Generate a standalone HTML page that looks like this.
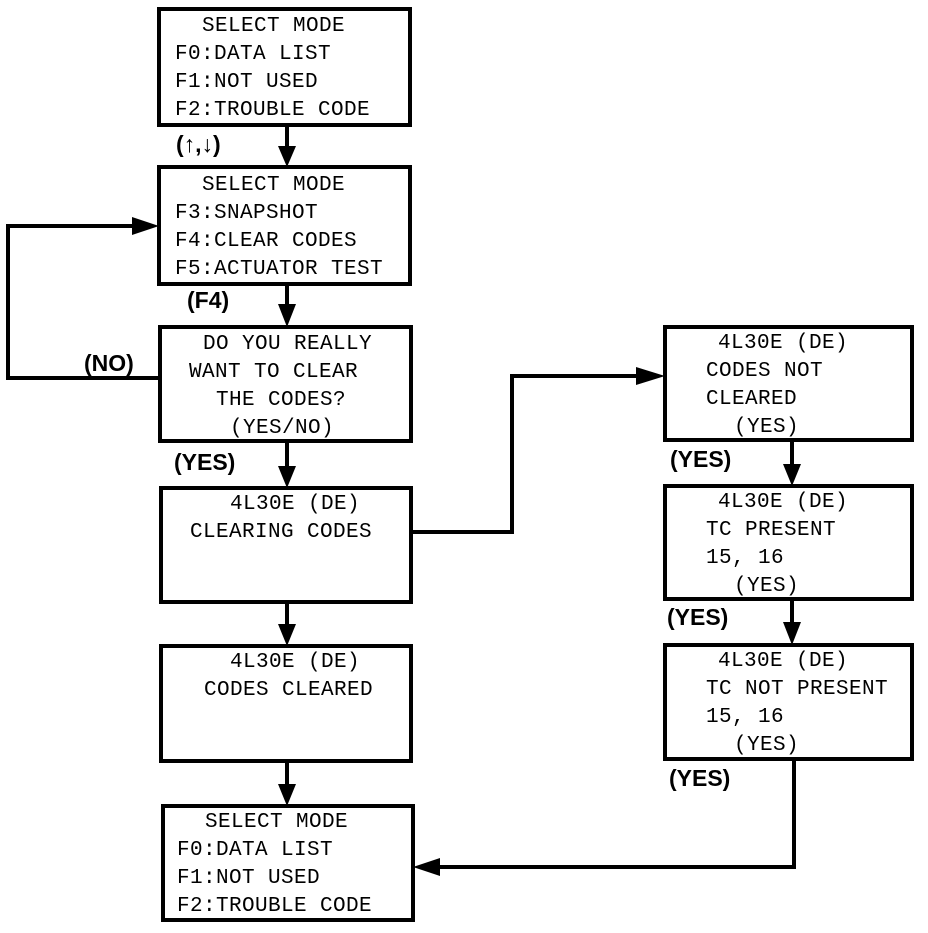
<!DOCTYPE html>
<html><head><meta charset="utf-8"><style>html,body{margin:0;padding:0;background:#fff}</style></head>
<body>
<svg width="928" height="928" viewBox="0 0 928 928" xmlns="http://www.w3.org/2000/svg">
<defs>
<marker id="ah" viewBox="0 0 10 10" refX="10" refY="5" markerWidth="6" markerHeight="6" markerUnits="userSpaceOnUse" orient="auto">
</marker>
</defs>
<g fill="none" stroke="#000" stroke-width="4">
<rect x="159" y="9" width="251" height="116"/>
<rect x="159" y="167" width="251" height="117"/>
<rect x="160" y="327" width="251" height="114"/>
<rect x="161" y="488" width="250" height="114"/>
<rect x="161" y="646" width="250" height="115"/>
<rect x="163" y="806" width="250" height="114"/>
<rect x="665" y="327" width="247" height="113"/>
<rect x="665" y="486" width="247" height="113"/>
<rect x="665" y="645" width="247" height="114"/>
<!-- vertical main connectors -->
<path d="M287 125 V150"/>
<path d="M287 284 V308"/>
<path d="M287 441 V470"/>
<path d="M287 602 V628"/>
<path d="M287 761 V788"/>
<path d="M792 440 V468"/>
<path d="M792 599 V626"/>
<!-- NO loop -->
<path d="M160 378 H8 V226 H135"/>
<!-- to right column -->
<path d="M411 532 H512 V376 H640"/>
<!-- bottom return -->
<path d="M794 759 V867 H438"/>
</g>
<g fill="#000">
<polygon points="278,146 296,146 287,167"/>
<polygon points="278,304 296,304 287,327"/>
<polygon points="278,466 296,466 287,488"/>
<polygon points="278,624 296,624 287,646"/>
<polygon points="278,784 296,784 287,806"/>
<polygon points="783,464 801,464 792,486"/>
<polygon points="783,622 801,622 792,645"/>
<polygon points="132,217 132,235 159,226"/>
<polygon points="636,367 636,385 665,376"/>
<polygon points="440,858 440,876 413,867"/>
</g>
<g font-family="Liberation Mono, DejaVu Sans Mono, monospace" font-size="21" fill="#000" letter-spacing="0.4">
<text x="202" y="31">SELECT MODE</text>
<text x="175" y="59">F0:DATA LIST</text>
<text x="175" y="87">F1:NOT USED</text>
<text x="175" y="115">F2:TROUBLE CODE</text>

<text x="202" y="190">SELECT MODE</text>
<text x="175" y="218">F3:SNAPSHOT</text>
<text x="175" y="246">F4:CLEAR CODES</text>
<text x="175" y="274">F5:ACTUATOR TEST</text>

<text x="203" y="349">DO YOU REALLY</text>
<text x="189" y="377">WANT TO CLEAR</text>
<text x="216" y="405">THE CODES?</text>
<text x="230" y="433">(YES/NO)</text>

<text x="230" y="509">4L30E (DE)</text>
<text x="190" y="537">CLEARING CODES</text>

<text x="230" y="667">4L30E (DE)</text>
<text x="204" y="695">CODES CLEARED</text>

<text x="205" y="827">SELECT MODE</text>
<text x="177" y="855">F0:DATA LIST</text>
<text x="177" y="883">F1:NOT USED</text>
<text x="177" y="911">F2:TROUBLE CODE</text>

<text x="718" y="348">4L30E (DE)</text>
<text x="706" y="376">CODES NOT</text>
<text x="706" y="404">CLEARED</text>
<text x="734" y="432">(YES)</text>

<text x="718" y="507">4L30E (DE)</text>
<text x="706" y="535">TC PRESENT</text>
<text x="706" y="563">15, 16</text>
<text x="734" y="591">(YES)</text>

<text x="718" y="666">4L30E (DE)</text>
<text x="706" y="694">TC NOT PRESENT</text>
<text x="706" y="722">15, 16</text>
<text x="734" y="750">(YES)</text>
</g>
<g font-family="Liberation Sans, Arial, sans-serif" font-size="23" font-weight="bold" fill="#000">
<text x="176" y="152">(↑,↓)</text>
<text x="187" y="308">(F4)</text>
<text x="84" y="371">(NO)</text>
<text x="174" y="470">(YES)</text>
<text x="670" y="467">(YES)</text>
<text x="667" y="625">(YES)</text>
<text x="669" y="786">(YES)</text>
</g>
</svg>
</body></html>
